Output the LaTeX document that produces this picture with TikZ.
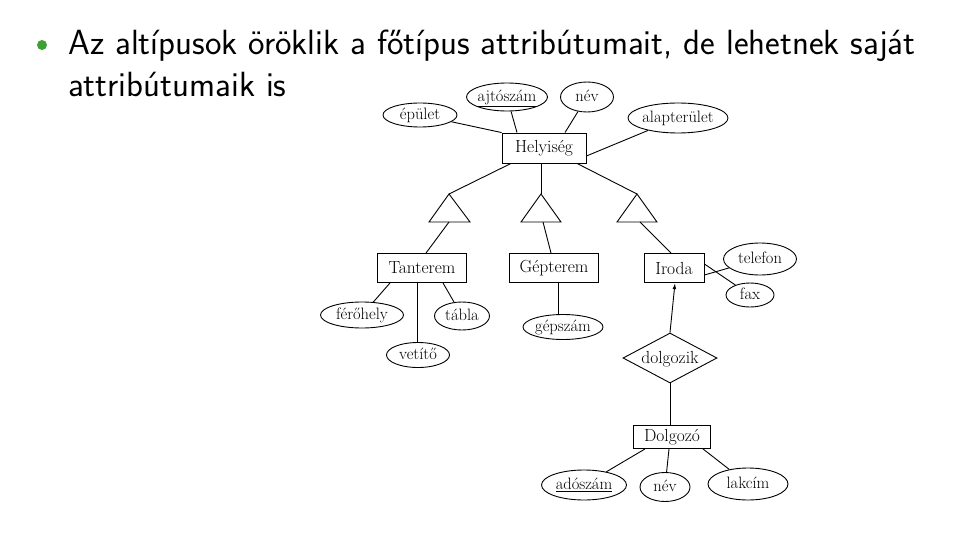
\documentclass[tikz,border=0pt]{standalone}
\usetikzlibrary{shapes.geometric,arrows.meta}
\definecolor{bulletgreen}{RGB}{60,160,50}
\newcommand{\lb}[1]{\smash{\makebox[0pt]{\raisebox{-0.3em}{#1}}}}
\tikzset{
  dfont/.style={font=\fontsize{17.5}{19}\selectfont},
  afont/.style={font=\fontsize{16.5}{18}\selectfont},
  ent/.style={draw, rectangle, line width=0.9pt, inner sep=0pt, dfont},
  attr/.style={draw, ellipse, line width=0.9pt, inner sep=0pt, afont},
  rel/.style={draw, diamond, line width=0.9pt, inner sep=0pt, dfont},
  conn/.style={line width=0.9pt},
  isa/.style={line width=0.9pt},
  head/.style={anchor=base west, inner sep=0pt, font=\sffamily\fontsize{35}{40}\selectfont}
}
\begin{document}
\begin{tikzpicture}[x=1pt,y=-1pt]
\useasboundingbox (0,0) rectangle (960,540);
% heading
\node[circle, fill=bulletgreen, minimum size=10pt, inner sep=0pt] (bul) at (42,45) {};
\node[head] (t1) at (68,55) {Az altípusok öröklik a főtípus attribútumait, de lehetnek saját};
\node[head] (t2) at (68,97) {attribútumaik is};
% entities
\node[ent, minimum width=84, minimum height=30] (hely) at (544,148) {Helyiség};
\node[ent, minimum width=89, minimum height=29] (tant) at (422,268) {Tanterem};
\node[ent, minimum width=89, minimum height=29] (gept) at (554,268) {Gépterem};
\node[ent, minimum width=60, minimum height=29] (iroda) at (674,268) {Iroda};
\node[ent, minimum width=77, minimum height=23] (dolg) at (672,437) {Dolgozó};
\node[rel, minimum width=94, minimum height=50] (dolgozik) at (670,358) {\lb{dolgozik}};
% attributes of Helyiség
\node[attr, minimum width=74, minimum height=24] (epul) at (420,115) {\lb{épület}};
\node[attr, minimum width=81, minimum height=28] (ajto) at (507,97) {\lb{\underline{ajtószám}}};
\node[attr, minimum width=53, minimum height=30] (nev1) at (587,97) {\lb{név}};
\node[attr, minimum width=100, minimum height=30] (alap) at (678,118) {\lb{alapterület}};
% attributes of Tanterem
\node[attr, minimum width=83, minimum height=26] (ferh) at (362,315) {\lb{férőhely}};
\node[attr, minimum width=55, minimum height=28] (tabla) at (462,316) {\lb{tábla}};
\node[attr, minimum width=63, minimum height=25] (vetito) at (418,355) {\lb{vetítő}};
% Gépterem
\node[attr, minimum width=80, minimum height=25] (gepsz) at (563,327) {\lb{gépszám}};
% Iroda
\node[attr, minimum width=73, minimum height=32] (telef) at (760,259) {\lb{telefon}};
\node[attr, minimum width=48, minimum height=24] (fax) at (750,295) {\lb{fax}};
% Dolgozó
\node[attr, minimum width=85, minimum height=30] (adosz) at (584,485) {\lb{\underline{adószám}}};
\node[attr, minimum width=50, minimum height=29] (nev2) at (665,487) {\lb{név}};
\node[attr, minimum width=80, minimum height=32] (lakc) at (748,484) {\lb{lakcím}};
% ISA triangles
\coordinate (ta1) at (449,194);
\coordinate (tb1) at (449,222);
\coordinate (ta2) at (541,194);
\coordinate (tb2) at (541,222);
\coordinate (ta3) at (637,194);
\coordinate (tb3) at (637,222);
\draw[isa] (ta1) -- (429,222) -- (470,222) -- cycle;
\draw[isa] (ta2) -- (521,222) -- (561,222) -- cycle;
\draw[isa] (ta3) -- (617,222) -- (657,222) -- cycle;
\draw[conn] ([xshift=-33]hely.south) -- (ta1);
\draw[conn] ([xshift=-3]hely.south) -- (ta2);
\draw[conn] ([xshift=33]hely.south) -- (ta3);
\draw[conn] (tb1) -- ([xshift=4]tant.north);
\draw[conn] ([xshift=2]tb2) -- ([xshift=-3]gept.north);
\draw[conn] ([xshift=3]tb3) -- ([xshift=-3]iroda.north);
% attribute connectors
\coordinate (tvs) at ([xshift=-5]tant.south);
\coordinate (gps) at ([xshift=4]gept.south);
\draw[conn] (epul) -- (hely.north west);
\draw[conn] (ajto) -- ([xshift=-27]hely.north);
\draw[conn] (nev1) -- ([xshift=21]hely.north);
\draw[conn] (alap) -- ([yshift=-8]hely.east);
\draw[conn] ([xshift=-32]tant.south) -- (ferh);
\draw[conn] ([xshift=21]tant.south) -- (tabla);
\draw[conn] (tvs) -- (vetito.north -| tvs);
\draw[conn] (gps) -- (gepsz.north -| gps);
\draw[conn] ([yshift=-7]iroda.east) -- (telef);
\draw[conn] ([yshift=4]iroda.east) -- (fax);
\draw[conn, -{Latex[length=6pt,width=3.5pt]}] (dolgozik.north) -- ([xshift=1]iroda.south);
\draw[conn] (dolgozik.south) -- (dolg.north -| dolgozik.south);
\draw[conn] ([xshift=-27]dolg.south) -- (adosz);
\draw[conn] ([xshift=-3]dolg.south) -- (nev2);
\draw[conn] ([xshift=31]dolg.south) -- (lakc);
\end{tikzpicture}
\end{document}
